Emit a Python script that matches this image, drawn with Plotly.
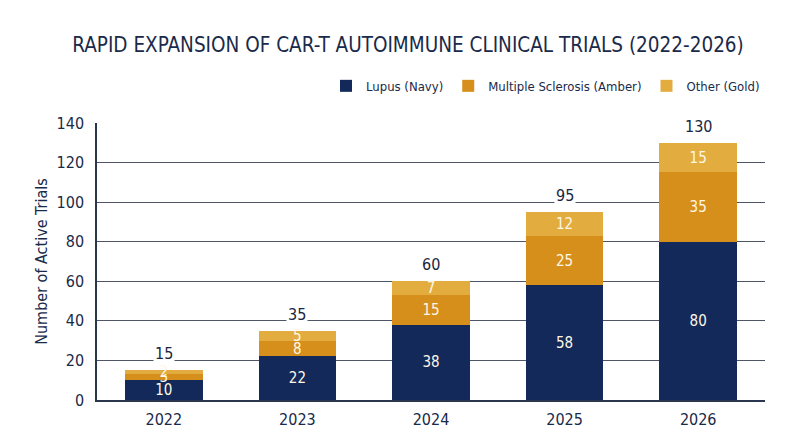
import plotly.graph_objects as go

years = ["2022", "2023", "2024", "2025", "2026"]
lupus = [10, 22, 38, 58, 80]
ms = [3, 8, 15, 25, 35]
other = [2, 5, 7, 12, 15]
totals = [15, 35, 60, 95, 130]

NAVY = "#13295a"
AMBER = "#d68f1a"
GOLD = "#e3ac3f"
FONT = "DejaVu Sans Condensed, Roboto, sans-serif"

fig = go.Figure()
for name, vals, col in [("Lupus (Navy)", lupus, NAVY),
                        ("Multiple Sclerosis (Amber)", ms, AMBER),
                        ("Other (Gold)", other, GOLD)]:
    fig.add_trace(go.Bar(
        x=years, y=vals, name=name,
        marker=dict(color=col, line=dict(width=0)),
        text=vals, texttemplate="%{text}", textposition="inside",
        insidetextanchor="middle", textangle=0,
        textfont=dict(color="#fff7e6", size=15, family=FONT),
        constraintext="none",
    ))

# totals above each stack, with white box to break the gridline
# (x given as category index so "2022" is not read as a number)
for i, tot in enumerate(totals):
    fig.add_annotation(x=i, y=tot, text=str(tot), showarrow=False,
                       yanchor="bottom", yshift=5, bgcolor="white",
                       font=dict(size=16, color="#1a2540", family=FONT))

fig.update_layout(
    width=800, height=447,
    barmode="stack", bargap=0.42,
    paper_bgcolor="white", plot_bgcolor="white",
    margin=dict(l=89, r=43, t=115, b=55, autoexpand=False),
    font=dict(family=FONT, color="#1a2a4a"),
    title=dict(text="RAPID EXPANSION OF CAR-T AUTOIMMUNE CLINICAL TRIALS (2022-2026)",
               x=0.5, xanchor="center", y=0.917, yanchor="middle",
               font=dict(size=20.5, color="#1a2a4a", family=FONT)),
    legend=dict(orientation="h", x=1.0, xanchor="right", y=1.134, yanchor="middle",
                font=dict(size=13, color="#1a2a4a", family=FONT),
                traceorder="normal"),
    uniformtext=dict(minsize=10, mode="show"),
)
fig.update_yaxes(range=[0, 140], dtick=20, showgrid=True, gridcolor="#4f5666",
                 gridwidth=1, showline=True, linecolor="#2a3550", linewidth=1.5,
                 zeroline=False, ticks="", ticklabelstandoff=8,
                 tickfont=dict(size=16, color="#1a2a4a"),
                 title=dict(text="Number of Active Trials", font=dict(size=16, color="#1a2a4a"),
                            standoff=5))
fig.update_xaxes(type="category", range=[-0.5, 4.5], showline=True, linecolor="#2a3550",
                 linewidth=1.5, ticks="", ticklabelstandoff=4,
                 tickfont=dict(size=16, color="#1a2a4a"))

fig.write_html("out.html")
